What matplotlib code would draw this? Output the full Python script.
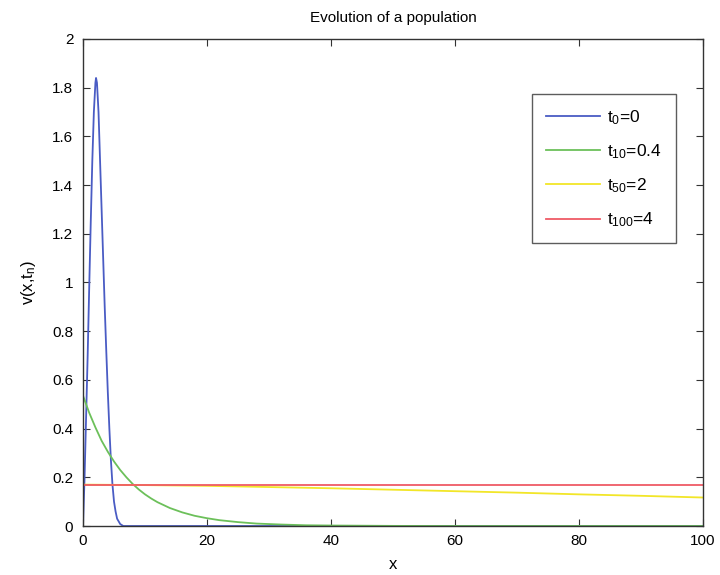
import numpy as np
import matplotlib
matplotlib.use("Agg")
import matplotlib.pyplot as plt

plt.rcParams['font.family'] = ['Liberation Sans', 'DejaVu Sans']

# t0 = 0 (blue)
x_t0 = [0, 0.25, 0.5, 0.75, 1.0, 1.25, 1.5, 1.75, 2.0, 2.1, 2.25, 2.5, 2.75, 3.0, 3.25,
        3.5, 3.75, 4.0, 4.25, 4.5, 4.75, 5.0, 5.25, 5.5, 6.0, 6.5, 100]
v_t0 = [0, 0.2, 0.45, 0.7, 0.98, 1.25, 1.5, 1.7, 1.82, 1.84, 1.82, 1.7, 1.5, 1.3, 1.1,
        0.9, 0.72, 0.55, 0.4, 0.27, 0.17, 0.1, 0.06, 0.03, 0.008, 0.0, 0.0]

# t10 = 0.4 (green)
x_t10 = [0, 1, 2, 3, 4, 5, 6, 7, 8, 9, 10, 11, 12, 14, 16, 18, 20, 22, 25, 28, 32, 36, 40,
         50, 60, 100]
v_t10 = [0.535, 0.465, 0.405, 0.35, 0.305, 0.265, 0.23, 0.2, 0.173, 0.15, 0.13, 0.113,
         0.098, 0.074, 0.056, 0.042, 0.032, 0.024, 0.016, 0.01, 0.006, 0.003, 0.002,
         0.0005, 0.0, 0.0]

# t50 = 2 (yellow)
x_t50 = [0, 10, 20, 30, 40, 50, 60, 70, 80, 90, 100]
v_t50 = [0.170, 0.168, 0.165, 0.160, 0.155, 0.149, 0.143, 0.137, 0.130, 0.124, 0.117]

# t100 = 4 (red)
x_t100 = [0, 100]
v_t100 = [0.168, 0.168]

labels = [r'$\mathregular{t_{0}}$=0', r'$\mathregular{t_{10}}$=0.4',
          r'$\mathregular{t_{50}}$=2', r'$\mathregular{t_{100}}$=4']
colors = ['#4a5cc4', '#6cc05a', '#f2e628', '#ef5a66']

fig = plt.figure(figsize=(7.2, 5.75), dpi=100)
ax = fig.add_axes([0.1153, 0.0852, 0.861, 0.847])

ax.plot(x_t0, v_t0, color=colors[0], lw=1.3, label=labels[0])
ax.plot(x_t10, v_t10, color=colors[1], lw=1.3, label=labels[1])
ax.plot(x_t50, v_t50, color=colors[2], lw=1.3, label=labels[2])
ax.plot(x_t100, v_t100, color=colors[3], lw=1.3, label=labels[3])

ax.set_xlim(0, 100)
ax.set_ylim(0, 2)
ax.set_xticks(np.arange(0, 101, 20))
ax.set_yticks(np.round(np.arange(0, 2.01, 0.2), 1))
ax.set_yticklabels(['0', '0.2', '0.4', '0.6', '0.8', '1', '1.2', '1.4', '1.6', '1.8', '2'])
ax.tick_params(direction='in', top=True, right=True, labelsize=11, length=5,
               color='#333333')
ax.tick_params(axis='y', pad=7)
ax.tick_params(axis='x', pad=6)
for s in ax.spines.values():
    s.set_color('#333333')
    s.set_linewidth(1.0)

ax.set_title('Evolution of a population', fontsize=11, pad=12)
ax.set_xlabel('x', fontsize=12, labelpad=6)
ax.set_ylabel(r'v(x,$\mathregular{t_n}$)', fontsize=12, labelpad=10)

leg = ax.legend(loc='upper right', bbox_to_anchor=(0.970, 0.905), fontsize=12.5,
                frameon=True, fancybox=False, edgecolor='#333333', handlelength=3.1,
                labelspacing=0.9, borderpad=0.8, handletextpad=0.4)
leg.get_frame().set_linewidth(1.0)

fig.savefig('out.png', dpi=100)
